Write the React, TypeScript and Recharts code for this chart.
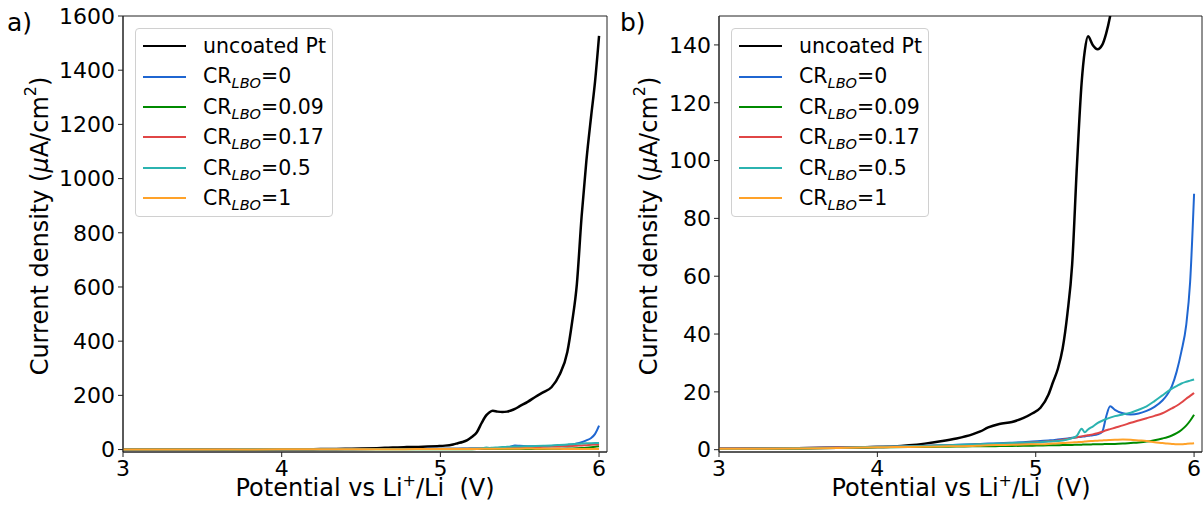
import React from "react";
import { LineChart, Line, XAxis, YAxis, ReferenceArea } from "recharts";

// potential (V vs Li+/Li) and current density (µA/cm²)
const potential = [
  3.0, 3.25, 3.5, 3.75, 4.0, 4.1, 4.2, 4.3, 4.4, 4.5, 4.6, 4.65, 4.7, 4.77, 4.85, 4.92,
  4.98, 5.03, 5.08, 5.11, 5.14, 5.17, 5.2, 5.23, 5.26, 5.29, 5.31, 5.33, 5.36, 5.39, 5.42,
  5.445, 5.47, 5.5, 5.55, 5.6, 5.65, 5.7, 5.75, 5.8, 5.83, 5.86, 5.89, 5.92, 5.95, 5.975, 6.0,
];
const uncoatedPt = [
  0.3, 0.4, 0.5, 0.7, 0.9, 1.1, 1.5, 2.1, 2.9, 3.9, 5.3, 6.3, 7.7, 8.9, 9.6, 10.9,
  12.6, 14.5, 19, 23.5, 28, 35, 47, 64, 98, 127, 138, 143, 140, 138.5, 140,
  144, 150, 160, 176, 195, 212, 230, 275, 360, 470, 610, 860, 1065, 1230, 1360, 1527,
];
const cr0 = [
  0.4, 0.5, 0.6, 0.8, 1.0, 1.1, 1.2, 1.4, 1.5, 1.7, 1.9, 2.0, 2.1, 2.2, 2.4, 2.6,
  2.8, 3.0, 3.2, 3.3, 3.5, 3.7, 3.9, 4.1, 4.3, 4.5, 4.6, 4.8, 5.0, 5.3, 6.2,
  11.5, 15, 13.8, 12.6, 12.2, 12.5, 13.4, 14.8, 17, 19, 22, 27, 34, 43, 58, 88.5,
];
const cr009 = [
  0.2, 0.3, 0.4, 0.6, 0.8, 0.85, 0.9, 0.95, 1.0, 1.1, 1.15, 1.2, 1.2, 1.25, 1.3, 1.35,
  1.4, 1.45, 1.5, 1.5, 1.55, 1.6, 1.6, 1.65, 1.7, 1.75, 1.8, 1.8, 1.85, 1.9, 1.9,
  1.95, 2.0, 2.0, 2.1, 2.3, 2.5, 2.8, 3.3, 3.9, 4.3, 4.9, 5.7, 6.8, 8.3, 10, 12.1,
];
const cr017 = [
  0.4, 0.5, 0.6, 0.8, 1.0, 1.1, 1.2, 1.3, 1.4, 1.5, 1.7, 1.8, 1.9, 2.0, 2.2, 2.3,
  2.5, 2.7, 2.9, 3.0, 3.2, 3.4, 3.7, 4.0, 4.3, 4.6, 4.8, 5.0, 5.3, 5.7, 6.2,
  6.7, 7.1, 7.6, 8.4, 9.3, 10.1, 10.9, 11.7, 12.6, 13.4, 14.3, 15.2, 16.3, 17.6, 18.6, 19.6,
];
const cr05 = [
  0.3, 0.4, 0.5, 0.7, 1.0, 1.1, 1.2, 1.3, 1.5, 1.6, 1.8, 1.9, 2.0, 2.1, 2.3, 2.4,
  2.5, 2.6, 2.8, 2.9, 3.0, 3.2, 3.5, 4.0, 4.8, 7.2, 6.0, 7.0, 8.0, 9.2, 10.0,
  10.6, 11.1, 11.6, 12.2, 12.8, 13.8, 15.0, 16.8, 18.8, 20.0, 21.1, 22.0, 22.9, 23.5, 23.9, 24.3,
];
const cr1 = [
  0.3, 0.35, 0.4, 0.6, 0.8, 0.9, 0.95, 1.0, 1.1, 1.2, 1.3, 1.4, 1.5, 1.6, 1.7, 1.8,
  1.85, 1.9, 2.0, 2.1, 2.2, 2.3, 2.4, 2.5, 2.6, 2.7, 2.8, 2.9, 3.0, 3.1, 3.2,
  3.3, 3.35, 3.4, 3.5, 3.4, 3.2, 3.0, 2.6, 2.3, 2.1, 2.0, 1.9, 1.9, 2.0, 2.1, 2.2,
];

const xTicks = [3, 4, 5, 6];
const yTicksA = [0, 200, 400, 600, 800, 1000, 1200, 1400, 1600];
const yTicksB = [0, 20, 40, 60, 80, 100, 120, 140];
const xDomain: [number, number] = [3, 6.05];

const series = [
  { key: "pt", label: "uncoated Pt", sub: "", values: uncoatedPt, color: "#000000", width: 2.5 },
  { key: "cr0", label: "CR", sub: "=0", values: cr0, color: "#1f66d1", width: 2 },
  { key: "cr009", label: "CR", sub: "=0.09", values: cr009, color: "#008a00", width: 2 },
  { key: "cr017", label: "CR", sub: "=0.17", values: cr017, color: "#e04646", width: 2 },
  { key: "cr05", label: "CR", sub: "=0.5", values: cr05, color: "#2bb3b0", width: 2 },
  { key: "cr1", label: "CR", sub: "=1", values: cr1, color: "#ffa229", width: 2 },
];

const rows = potential.map((v, i) => {
  const r: Record<string, number> = { v };
  for (const s of series) r[s.key] = s.values[i];
  return r;
});

const FONT = "DejaVu Sans, sans-serif";
const tick = { fill: "#000", fontSize: 22, fontFamily: FONT };
const spine = { stroke: "#222", strokeWidth: 1 };

function Legend({ left }: { left: number }) {
  return (
    <div
      style={{
        position: "absolute",
        left,
        top: 28,
        width: 198,
        height: 189,
        boxSizing: "border-box",
        border: "1px solid #d0d0d0",
        borderRadius: 4,
        background: "rgba(255,255,255,0.8)",
        paddingTop: 2,
        fontFamily: FONT,
        fontSize: 20.5,
        color: "#000",
      }}
    >
      {series.map((s) => (
        <div key={s.key} style={{ height: 30.4, display: "flex", alignItems: "center" }}>
          <div style={{ marginLeft: 7, width: 43, height: s.width, background: s.color }} />
          <div style={{ marginLeft: 17, whiteSpace: "nowrap", lineHeight: 1 }}>
            {s.sub ? (
              <>
                CR
                <i style={{ fontSize: 14.5, position: "relative", top: 5 }}>LBO</i>
                {s.sub}
              </>
            ) : (
              s.label
            )}
          </div>
        </div>
      ))}
    </div>
  );
}

// axis titles, drawn over the charts
function Titles() {
  const yLabel = (x: number, cy: number) => (
    <text
      x={x}
      y={cy}
      transform={`rotate(-90, ${x}, ${cy})`}
      textAnchor="middle"
      dominantBaseline="central"
      fontSize={24}
      fontFamily={FONT}
      fill="#000"
    >
      Current density (<tspan fontStyle="italic">μ</tspan>A/cm
      <tspan fontSize={16} dy={-10}>2</tspan>
      <tspan dy={10}>)</tspan>
    </text>
  );
  const xLabel = (cx: number) => (
    <text x={cx} y={496} textAnchor="middle" fontSize={24} fontFamily={FONT} fill="#000" style={{ whiteSpace: "pre" }}>
      Potential vs Li<tspan fontSize={16} dy={-10}>+</tspan>
      <tspan dy={10}>/Li  (V)</tspan>
    </text>
  );
  return (
    <svg width={1203} height={506} style={{ position: "absolute", left: 0, top: 0, pointerEvents: "none" }}>
      {yLabel(40, 226)}
      {yLabel(649, 226)}
      {xLabel(365)}
      {xLabel(961)}
    </svg>
  );
}

function Panel({
  left,
  width,
  yWidth,
  marginRight,
  domain,
  ticks,
}: {
  left: number;
  width: number;
  yWidth: number;
  marginRight: number;
  domain: [number, number];
  ticks: number[];
}) {
  return (
    <div style={{ position: "absolute", left, top: 0 }}>
      <LineChart width={width} height={506} data={rows} margin={{ top: 16, right: marginRight, bottom: 0, left: 0 }}>
        <XAxis
          dataKey="v"
          type="number"
          domain={xDomain}
          ticks={xTicks}
          allowDataOverflow
          height={54}
          tick={tick}
          tickSize={5}
          tickMargin={3}
          axisLine={spine}
          tickLine={spine}
        />
        <YAxis
          type="number"
          domain={domain}
          ticks={ticks}
          allowDataOverflow
          width={yWidth}
          tick={tick}
          tickSize={5}
          tickMargin={3}
          axisLine={spine}
          tickLine={spine}
        />
        <ReferenceArea
          x1={xDomain[0]}
          x2={xDomain[1]}
          y1={domain[0]}
          y2={domain[1]}
          fill="none"
          stroke="#222"
          strokeWidth={1}
          ifOverflow="visible"
        />
        {series.map((s) => (
          <Line
            key={s.key}
            dataKey={s.key}
            type="monotone"
            stroke={s.color}
            strokeWidth={s.width}
            dot={false}
            isAnimationActive={false}
          />
        ))}
      </LineChart>
    </div>
  );
}

export default function App() {
  return (
    <div style={{ position: "absolute", left: 0, top: 0, width: 1203, height: 506, background: "#fff", fontFamily: FONT }}>
      <Panel left={0} width={610} yWidth={123} marginRight={3} domain={[-9, 1600]} ticks={yTicksA} />
      <Panel left={610} width={593} yWidth={109} marginRight={1} domain={[-0.8, 150]} ticks={yTicksB} />
      <Titles />
      <Legend left={135} />
      <Legend left={731} />
      <div style={{ position: "absolute", left: 7, top: 8, fontSize: 25, fontFamily: FONT }}>a)</div>
      <div style={{ position: "absolute", left: 620, top: 8, fontSize: 25, fontFamily: FONT }}>b)</div>
    </div>
  );
}
